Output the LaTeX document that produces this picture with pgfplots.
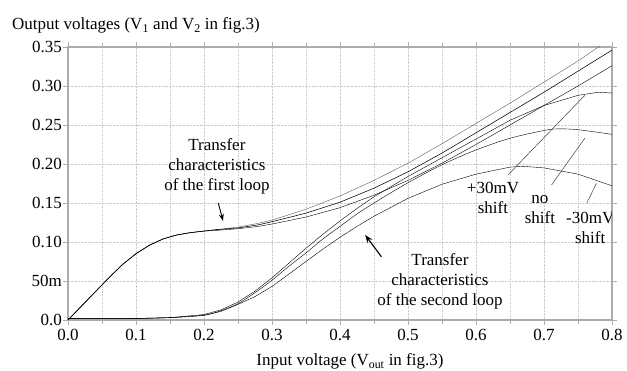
\documentclass[border=0pt]{standalone}
\usepackage{fontspec}
\setmainfont{Liberation Serif}
\usepackage{pgfplots}
\pgfplotsset{compat=1.18}
\usetikzlibrary{arrows.meta}
\newcommand{\fs}{\fontsize{17}{20}\selectfont}
\begin{document}
\begin{tikzpicture}[font=\fs]
\begin{axis}[
  at={(0,0)}, anchor=south west,
  scale only axis, width=544pt, height=273pt,
  xmin=0, xmax=0.8, ymin=0, ymax=0.35,
  xtick={0,0.1,0.2,0.3,0.4,0.5,0.6,0.7,0.8},
  xticklabels={0.0,0.1,0.2,0.3,0.4,0.5,0.6,0.7,0.8},
  minor xtick={0.05,0.15,0.25,0.35,0.45,0.55,0.65,0.75},
  ytick={0,0.05,0.1,0.15,0.2,0.25,0.3,0.35},
  yticklabels={0.0,50m,0.10,0.15,0.20,0.25,0.30,0.35},
  xmajorgrids, xminorgrids, ymajorgrids,
  grid style={densely dotted, gray!40, line width=0.6pt},
  minor grid style={densely dotted, gray!40, line width=0.6pt},
  axis line style={gray!65, line width=1.4pt},
  tick style={gray!65, line width=0.8pt},
  tick align=outside, major tick length=5pt, minor tick length=4pt,
  /pgf/number format/assume math mode=true,
  ticklabel style={font=\fs},
  yticklabel style={inner sep=1pt},
  xticklabel style={inner sep=4pt},
  cycle list={{black!65, line width=0.55pt, solid, mark=none, smooth, tension=0.5}},
]
% first loop
\addplot coordinates {(0,0) (0.02,0.018) (0.04,0.036) (0.06,0.054) (0.08,0.071) (0.1,0.085) (0.12,0.096) (0.14,0.104) (0.16,0.109) (0.18,0.112) (0.2,0.114) (0.22,0.116) (0.25,0.119) (0.28,0.124) (0.3,0.128) (0.35,0.142) (0.4,0.159) (0.45,0.179) (0.5,0.201) (0.55,0.226) (0.6,0.252) (0.65,0.278) (0.7,0.305) (0.75,0.332) (0.78,0.35) (0.8,0.362)};
\addplot coordinates {(0,0) (0.02,0.018) (0.04,0.036) (0.06,0.054) (0.08,0.071) (0.1,0.085) (0.12,0.096) (0.14,0.104) (0.16,0.109) (0.18,0.112) (0.2,0.114) (0.22,0.116) (0.25,0.118) (0.28,0.122) (0.3,0.126) (0.35,0.137) (0.4,0.151) (0.45,0.169) (0.5,0.19) (0.55,0.214) (0.6,0.24) (0.65,0.266) (0.7,0.292) (0.75,0.319) (0.8,0.346)};
\addplot coordinates {(0,0) (0.02,0.018) (0.04,0.036) (0.06,0.054) (0.08,0.071) (0.1,0.085) (0.12,0.096) (0.14,0.104) (0.16,0.109) (0.18,0.112) (0.2,0.114) (0.22,0.115) (0.25,0.117) (0.28,0.12) (0.3,0.123) (0.35,0.132) (0.4,0.144) (0.45,0.16) (0.5,0.179) (0.55,0.201) (0.6,0.225) (0.65,0.25) (0.7,0.275) (0.75,0.3) (0.8,0.326)};
% second loop
\addplot coordinates {(0,0.002) (0.1,0.002) (0.15,0.003) (0.2,0.007) (0.225,0.013) (0.25,0.023) (0.275,0.037) (0.3,0.054) (0.325,0.073) (0.35,0.092) (0.375,0.11) (0.4,0.127) (0.425,0.143) (0.45,0.158) (0.5,0.184) (0.55,0.208) (0.6,0.232) (0.65,0.256) (0.7,0.275) (0.75,0.288) (0.78,0.292) (0.8,0.291)};
\addplot coordinates {(0,0.002) (0.1,0.002) (0.15,0.003) (0.2,0.006) (0.225,0.012) (0.25,0.021) (0.275,0.035) (0.3,0.051) (0.325,0.069) (0.35,0.086) (0.375,0.104) (0.4,0.12) (0.425,0.136) (0.45,0.15) (0.5,0.176) (0.55,0.199) (0.6,0.218) (0.65,0.233) (0.7,0.243) (0.72,0.245) (0.75,0.244) (0.8,0.238)};
\addplot coordinates {(0,0.002) (0.1,0.002) (0.15,0.003) (0.2,0.006) (0.225,0.011) (0.25,0.02) (0.275,0.03) (0.3,0.043) (0.325,0.059) (0.35,0.075) (0.375,0.091) (0.4,0.106) (0.425,0.12) (0.45,0.133) (0.5,0.156) (0.55,0.174) (0.6,0.187) (0.65,0.196) (0.67,0.197) (0.7,0.195) (0.75,0.187) (0.8,0.172)};
% annotations
\node[align=center, inner sep=0pt, font=\fs] at (axis cs:0.219,0.197) {Transfer\\characteristics\\of the first loop};
\draw[-{Stealth[length=7pt,width=5pt]}, black, line width=0.9pt] (axis cs:0.221,0.150) -- (axis cs:0.228,0.127);
\node[align=center, inner sep=0pt, font=\fs] at (axis cs:0.547,0.049) {Transfer\\characteristics\\of the second loop};
\draw[-{Stealth[length=8pt,width=6pt]}, black, line width=1.1pt] (axis cs:0.461,0.081) -- (axis cs:0.437,0.109);
\node[align=center, inner sep=0pt, font=\fs] at (axis cs:0.625,0.156) {+30mV\\shift};
\node[align=center, inner sep=0pt, font=\fs] at (axis cs:0.694,0.142) {no\\shift};
\node[align=center, inner sep=0pt, font=\fs] at (axis cs:0.768,0.118) {-30mV\\shift};
\draw[black!75, line width=0.5pt] (axis cs:0.647,0.186) -- (axis cs:0.76,0.288);
\draw[black!75, line width=0.5pt] (axis cs:0.711,0.173) -- (axis cs:0.760,0.233);
\draw[black!75, line width=0.5pt] (axis cs:0.763,0.150) -- (axis cs:0.777,0.175);
\end{axis}
\node[anchor=base west, inner sep=0pt] at (-56pt,290pt) {Output voltages (V\textsubscript{1} and V\textsubscript{2} in fig.3)};
\node[anchor=base, inner sep=0pt] at (282pt,-46pt) {Input voltage (V\textsubscript{out} in fig.3)};
\pgfresetboundingbox
\path[use as bounding box] (-68pt,-51pt) rectangle (559pt,320pt);
\end{tikzpicture}
\end{document}
